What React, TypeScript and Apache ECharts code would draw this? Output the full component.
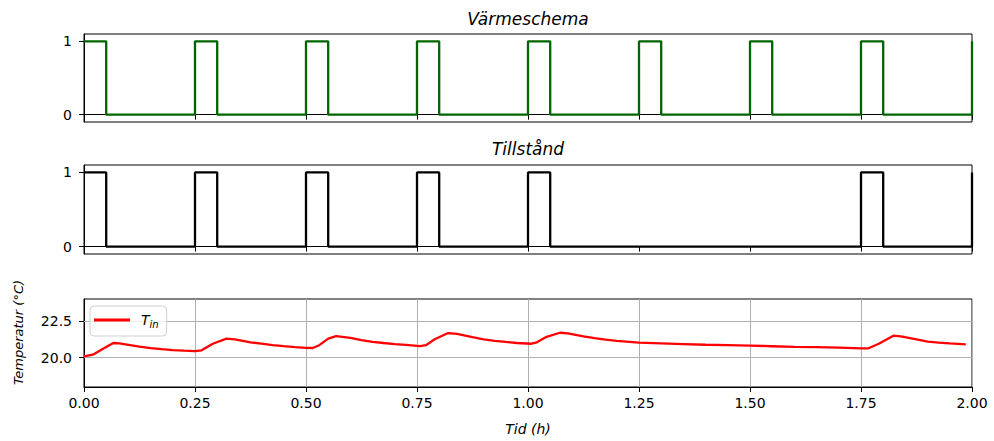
import React, { useEffect, useRef } from "react";
import * as echarts from "echarts";

const FONT = "DejaVu Sans";

const scheduleTimes = [0, 0.05, 0.25, 0.3, 0.5, 0.55, 0.75, 0.8, 1.0, 1.05, 1.25, 1.3, 1.5, 1.55, 1.75, 1.8, 2.0];
const scheduleValues = [1, 0, 1, 0, 1, 0, 1, 0, 1, 0, 1, 0, 1, 0, 1, 0, 1];

const stateTimes = [0, 0.05, 0.25, 0.3, 0.5, 0.55, 0.75, 0.8, 1.0, 1.05, 1.75, 1.8, 2.0];
const stateValues = [1, 0, 1, 0, 1, 0, 1, 0, 1, 0, 1, 0, 1];

const tempTimes = [
  0, 0.02, 0.04, 0.066, 0.08, 0.1, 0.125, 0.15, 0.175, 0.2, 0.225, 0.25, 0.265,
  0.29, 0.321, 0.34, 0.375, 0.4, 0.425, 0.45, 0.475, 0.5, 0.515,
  0.53, 0.55, 0.568, 0.6, 0.625, 0.65, 0.675, 0.7, 0.725, 0.757,
  0.77, 0.79, 0.82, 0.84, 0.875, 0.9, 0.925, 0.95, 0.975, 1.008,
  1.02, 1.04, 1.072, 1.09, 1.125, 1.15, 1.175, 1.2, 1.25, 1.3, 1.35, 1.4, 1.45, 1.5,
  1.55, 1.6, 1.65, 1.7, 1.75, 1.767, 1.79, 1.823, 1.84, 1.875, 1.9, 1.925, 1.95, 1.986,
];
const tempValues = [
  20.09, 20.2, 20.55, 21.0, 20.98, 20.88, 20.75, 20.65, 20.58, 20.52, 20.48, 20.45, 20.5,
  20.95, 21.3, 21.25, 21.05, 20.95, 20.85, 20.78, 20.72, 20.67, 20.66,
  20.85, 21.3, 21.47, 21.35, 21.2, 21.08, 21.0, 20.93, 20.87, 20.79,
  20.85, 21.25, 21.68, 21.62, 21.4, 21.25, 21.15, 21.07, 21.0, 20.95,
  21.05, 21.4, 21.7, 21.65, 21.45, 21.33, 21.23, 21.15, 21.03, 20.98, 20.93, 20.88, 20.85, 20.82,
  20.78, 20.73, 20.72, 20.68, 20.63, 20.64, 20.95, 21.5, 21.45, 21.25, 21.1, 21.02, 20.97, 20.91,
];

const zip = (a: number[], b: number[]) => a.map((v, i) => [v, b[i]]);

const gridTops = [34, 165, 299];
const gridHeights = [88, 89, 88];

export default function App() {
  const ref = useRef<HTMLDivElement>(null);
  useEffect(() => {
    const chart = echarts.init(ref.current!, null, { renderer: "svg" });
    const grids = gridTops.map((top, i) => ({
      left: 84,
      right: 22,
      top,
      height: gridHeights[i],
      show: true,
      borderColor: "#000",
      borderWidth: 1,
      backgroundColor: "transparent",
    }));
    const xAxes = [0, 1, 2].map((i) => ({
      type: "value",
      gridIndex: i,
      min: 0,
      max: 2,
      interval: 0.25,
      axisLine: { show: true, lineStyle: { color: "#000", width: 1 } },
      axisTick: { show: true, length: 5, inside: false, lineStyle: { color: "#000", width: 1 } },
      axisLabel: {
        show: i === 2,
        margin: 9,
        color: "#000",
        fontSize: 14,
        fontFamily: FONT,
        formatter: (v: number) => v.toFixed(2),
      },
      splitLine: { show: i === 2, lineStyle: { color: "#b0b0b0", width: 1 } },
    }));
    const yAxes = [0, 1, 2].map((i) => {
      const ticks = i === 2 ? [20, 22.5] : [0, 1];
      return {
        type: "value",
        gridIndex: i,
        min: i === 2 ? 18 : -0.1,
        max: i === 2 ? 24 : 1.1,
        axisLine: { show: true, lineStyle: { color: "#000", width: 1 } },
        axisTick: { show: true, length: 5, inside: false, customValues: ticks, lineStyle: { color: "#000", width: 1 } },
        axisLabel: {
          show: true,
          customValues: ticks,
          margin: 12,
          color: "#000",
          fontSize: 14,
          fontFamily: FONT,
          formatter: (v: number) => (i === 2 ? v.toFixed(1) : String(v)),
        },
        splitLine: { show: false },
      };
    });
    chart.setOption({
      animation: false,
      grid: grids,
      xAxis: xAxes,
      yAxis: yAxes,
      legend: {
        data: ["T_in"],
        left: 90,
        top: 306,
        icon: "rect",
        itemWidth: 36,
        itemHeight: 3,
        padding: [7, 8, 7, 4],
        borderColor: "#d0d0d0",
        borderWidth: 1,
        borderRadius: 4,
        backgroundColor: "rgba(255,255,255,0.8)",
        selectedMode: false,
        formatter: () => "{t|T}{s|in}",
        textStyle: {
          color: "#000",
          rich: {
            t: { fontSize: 14, fontStyle: "italic", fontFamily: FONT, lineHeight: 18, padding: [0, 0, 0, 6], color: "#000" },
            s: { fontSize: 10, fontStyle: "italic", fontFamily: FONT, lineHeight: 10, verticalAlign: "bottom", color: "#000" },
          },
        },
      },
      graphic: [
        {
          type: "text",
          x: 528,
          y: 18.5,
          style: { text: "Värmeschema", fontSize: 17, fontStyle: "italic", fontFamily: FONT, fill: "#000", textAlign: "center", textVerticalAlign: "middle" },
        },
        {
          type: "text",
          x: 528,
          y: 149,
          style: { text: "Tillstånd", fontSize: 17, fontStyle: "italic", fontFamily: FONT, fill: "#000", textAlign: "center", textVerticalAlign: "middle" },
        },
        {
          type: "text",
          x: 528,
          y: 429,
          style: { text: "Tid (h)", fontSize: 14, fontStyle: "italic", fontFamily: FONT, fill: "#000", textAlign: "center", textVerticalAlign: "middle" },
        },
        {
          type: "text",
          x: 18,
          y: 332.5,
          rotation: Math.PI / 2,
          style: { text: "Temperatur (°C)", fontSize: 13, fontStyle: "italic", fontFamily: FONT, fill: "#000", textAlign: "center", textVerticalAlign: "middle" },
        },
      ],
      series: [
        {
          type: "line",
          name: "Värmeschema",
          xAxisIndex: 0,
          yAxisIndex: 0,
          data: zip(scheduleTimes, scheduleValues),
          step: "end",
          symbol: "none",
          clip: false,
          color: "#006400",
          lineStyle: { color: "#006400", width: 2.3 },
        },
        {
          type: "line",
          name: "Tillstånd",
          xAxisIndex: 1,
          yAxisIndex: 1,
          data: zip(stateTimes, stateValues),
          step: "end",
          symbol: "none",
          clip: false,
          color: "#000",
          lineStyle: { color: "#000", width: 2.3 },
        },
        {
          type: "line",
          name: "T_in",
          xAxisIndex: 2,
          yAxisIndex: 2,
          data: zip(tempTimes, tempValues),
          symbol: "none",
          color: "#ff0000",
          lineStyle: { color: "#ff0000", width: 2.3 },
          markLine: {
            silent: true,
            symbol: "none",
            label: { show: false },
            lineStyle: { color: "#b0b0b0", width: 1, type: "solid" },
            emphasis: { disabled: true },
            data: [{ yAxis: 20 }, { yAxis: 22.5 }],
            z: 1,
          },
        },
      ],
    });
    return () => chart.dispose();
  }, []);
  return (
    <div
      ref={ref}
      style={{ position: "fixed", left: 0, top: 0, width: 994, height: 441, background: "#fff" }}
    />
  );
}
